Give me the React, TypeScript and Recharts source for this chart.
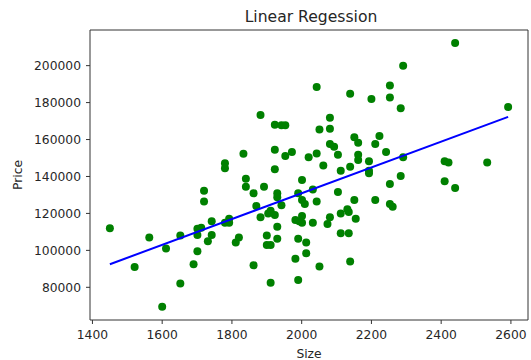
import { ReferenceArea, Scatter, ScatterChart, XAxis, YAxis, Label } from "recharts"

const sizes = [
  1450, 1521, 1563, 1600, 1611, 1652, 1652, 1690, 1701, 1701, 1701, 1712, 1720, 1720, 1731, 1742,
  1742, 1780, 1780, 1780, 1792, 1792, 1811, 1820, 1833, 1840, 1840, 1862, 1862, 1870, 1882, 1882,
  1892, 1900, 1900, 1911, 1911, 1904, 1911, 1923, 1923, 1923, 1923, 1930, 1930, 1930, 1930, 1942,
  1942, 1953, 1953, 1972, 1982, 1990, 1990, 1990, 2001, 2001, 1982, 2001, 2001, 1993, 2009, 2013,
  2013, 2020, 2032, 2032, 2043, 2043, 2043, 2051, 2051, 2062, 2074, 2081, 2081, 2081, 2081, 2093,
  2104, 2104, 2112, 2112, 2112, 2131, 2135, 2135, 2139, 2139, 2139, 2151, 2151, 2155, 2162, 2162,
  2162, 2193, 2193, 2193, 2200, 2211, 2211, 2223, 2242, 2253, 2253, 2253, 2253, 2261, 2284, 2284,
  2291, 2291, 2410, 2421, 2410, 2440, 2440, 2532, 2592,
]

const prices = [
  112000, 91000, 107000, 69500, 101000, 82000, 108000, 92500, 99500, 108300, 111700, 112300, 132300, 126500, 104900, 108300,
  115700, 147100, 144400, 115000, 117100, 115000, 104200, 107000, 152300, 138800, 134500, 130900, 91900, 124000, 173300, 117900,
  134500, 108000, 102900, 102900, 82500, 120000, 121500, 168000, 154500, 143900, 119100, 130900, 128700, 112800, 106300, 124400,
  167700, 167700, 151100, 153300, 95500, 106300, 84000, 130900, 138100, 127300, 116400, 118600, 115000, 115700, 125100, 104200,
  98400, 150400, 115000, 133000, 152500, 126500, 188400, 165500, 91200, 146000, 114300, 117900, 165900, 171800, 157600, 156100,
  151800, 131600, 143100, 120000, 109200, 122200, 120800, 109200, 184800, 145300, 94000, 161200, 127300, 117100, 158300, 151800,
  148900, 148200, 143100, 141700, 182000, 157600, 127300, 161900, 153300, 189200, 182700, 135900, 125100, 123600, 176900, 140300,
  200000, 150400, 148200, 147500, 137400, 133800, 212300, 147500, 177600,
]

// end points of the fitted line
const fitSizes = [1450, 2592]
const fitPrices = [92500, 172300]

const xTicks = [1400, 1600, 1800, 2000, 2200, 2400, 2600]
const yTicks = [80000, 100000, 120000, 140000, 160000, 180000, 200000]

const xDomain = [1393, 2649]
const yDomain = [62300, 219300]

const points = sizes.map((s, i) => ({ x: s, y: prices[i] }))
const fit = fitSizes.map((s, i) => ({ x: s, y: fitPrices[i] }))

const font = "DejaVu Sans, sans-serif"
const tickStyle = { fontSize: 12.3, fill: "#262626", fontFamily: font }

export default function App() {
  return (
    <div style={{ position: "absolute", left: 0, top: 0, width: 531, height: 360, background: "#fff" }}>
      <div
        style={{
          position: "absolute",
          top: 8,
          left: 211,
          width: 200,
          textAlign: "center",
          fontFamily: font,
          fontSize: 15.6,
          color: "#262626",
          whiteSpace: "nowrap",
        }}
      >
        Linear Regession
      </div>
      <ScatterChart width={531} height={360} margin={{ top: 30, right: 3, bottom: 0, left: 0 }}>
        <XAxis
          type="number"
          dataKey="x"
          domain={xDomain}
          ticks={xTicks}
          height={40}
          tickSize={4}
          tickMargin={6}
          axisLine={false}
          tickLine={{ stroke: "#333" }}
          tick={tickStyle}
        >
          <Label value="Size" position="insideBottom" offset={2} style={tickStyle} />
        </XAxis>
        <YAxis
          type="number"
          dataKey="y"
          domain={yDomain}
          ticks={yTicks}
          width={90}
          tickSize={4}
          tickMargin={5}
          axisLine={false}
          tickLine={{ stroke: "#333" }}
          tick={tickStyle}
        >
          <Label value="Price" angle={-90} position="insideLeft" offset={18} style={{ ...tickStyle, textAnchor: "middle" }} />
        </YAxis>
        <ReferenceArea
          x1={xDomain[0]}
          x2={xDomain[1]}
          y1={yDomain[0]}
          y2={yDomain[1]}
          fill="none"
          stroke="#333"
          strokeWidth={1}
          ifOverflow="visible"
        />
        <Scatter
          data={points}
          fill="#008000"
          isAnimationActive={false}
          shape={(p: any) => <circle cx={p.cx} cy={p.cy} r={4} fill="#008000" />}
        />
        <Scatter
          data={fit}
          line={{ stroke: "#0000ff", strokeWidth: 2 }}
          isAnimationActive={false}
          shape={() => <g />}
        />
      </ScatterChart>
    </div>
  )
}
